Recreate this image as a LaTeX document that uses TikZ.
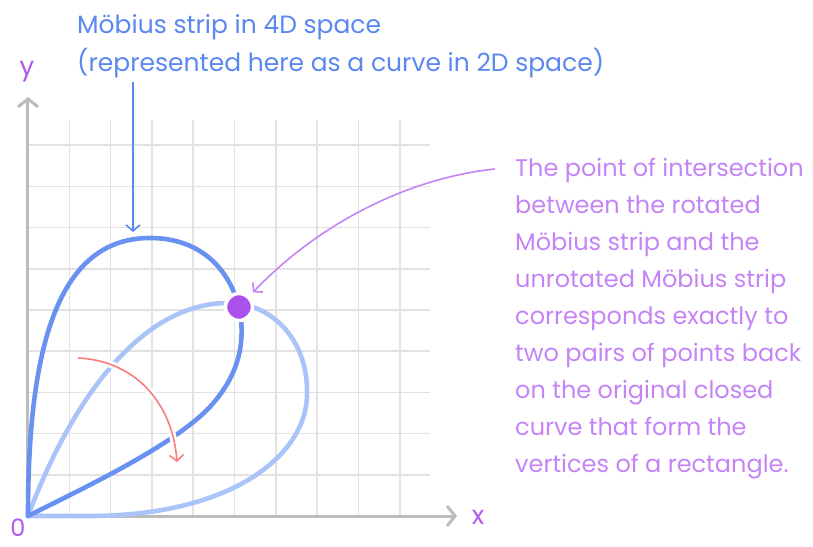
\documentclass[tikz,border=0pt]{standalone}
\usepackage{fontspec}
\setmainfont{Poppins}
\usetikzlibrary{arrows.meta}

\definecolor{gridgray}{RGB}{226,226,226}
\definecolor{axisgray}{RGB}{188,188,188}
\definecolor{labelpurple}{RGB}{178,88,240}
\definecolor{notepurple}{RGB}{196,132,246}
\definecolor{dotpurple}{RGB}{170,80,235}
\definecolor{titleblue}{RGB}{90,135,240}
\definecolor{darkstrip}{RGB}{105,145,240}
\definecolor{lightstrip}{RGB}{170,196,250}
\definecolor{turnred}{RGB}{250,125,125}

\begin{document}
\begin{tikzpicture}[x=1pt, y=1pt,
    grid line/.style={draw=gridgray, line width=1.6pt},
    axis/.style={draw=axisgray, line width=3pt, -{Straight Barb[length=8pt, width=20pt]}},
    axis label/.style={text=labelpurple, inner sep=0pt, font=\fontsize{26}{26}\selectfont},
    strip/.style={line width=4.6pt, line cap=round},
    pointer/.style={line width=1.6pt, -{Straight Barb[length=6pt, width=14pt]}}]

    \useasboundingbox (-28,-30) rectangle (785,516);

    % grille
    \foreach \k in {0,...,9} {
        \draw[grid line] (41.3*\k,0) -- (41.3*\k,396);
        \draw[grid line] (0,41.2*\k) -- (402,41.2*\k);
    }

    % axes
    \coordinate (o) at (0,0);
    \coordinate (xend) at (429,0);
    \coordinate (yend) at (0,419);
    \draw[axis] (o) -- (xend);
    \draw[axis] (o) -- (yend);
    \node[axis label] (xlab) at (450,-1) {x};
    \node[axis label] (ylab) at (-1,444) {y};
    \node[axis label, font=\fontsize{24}{24}\selectfont] (zero) at (-10,-12) {0};

    % bande tournee
    \draw[strip, draw=lightstrip] (o) .. controls (45,120) and (115,213) .. (200,213)
        .. controls (245,213) and (280,175) .. (279,123)
        .. controls (280,65) and (210,0) .. (60,0) -- (o);

    % bande d'origine
    \draw[strip, draw=darkstrip] (o) .. controls (0,170) and (30,278) .. (122,278)
        .. controls (170,278) and (200,250) .. (211,209)
        .. controls (218,175) and (212,140) .. (179,106)
        .. controls (140,68) and (60,30) .. (o);

    % rotation
    \coordinate (turn start) at (50,158);
    \coordinate (turn end) at (149,54);
    \draw[white, line width=7pt] (turn start) .. controls (110,155) and (145,110) .. (turn end);
    \draw[pointer, draw=turnred] (turn start) .. controls (110,155) and (145,110) .. (turn end);

    % point d'intersection
    \node[circle, fill=dotpurple, draw=white, line width=3.5pt, minimum size=27pt, inner sep=0pt] (meet) at (211,209) {};

    % textes
    \node[anchor=north west, inner sep=0pt, align=left, text=titleblue,
        font=\fontsize{25}{38}\selectfont] (title) at (49,502)
        {Möbius strip in 4D space\\(represented here as a curve in 2D space)};
    \node[anchor=north west, inner sep=0pt, align=left, text=notepurple,
        font=\fontsize{24}{37}\selectfont] (note) at (487,358)
        {The point of intersection\\between the rotated\\Möbius strip and the\\unrotated Möbius strip\\corresponds exactly to\\two pairs of points back\\on the original closed\\curve that form the\\vertices of a rectangle.};

    % fleches
    \coordinate (peak) at (105,284);
    \draw[pointer, draw=titleblue, shorten <=4pt] (peak |- title.south) -- (peak);
    \draw[pointer, draw=notepurple, shorten >=5pt] ([xshift=-20pt, yshift=-11pt]note.north west)
        .. controls (380,338) and (290,292) .. (meet);
\end{tikzpicture}
\end{document}
